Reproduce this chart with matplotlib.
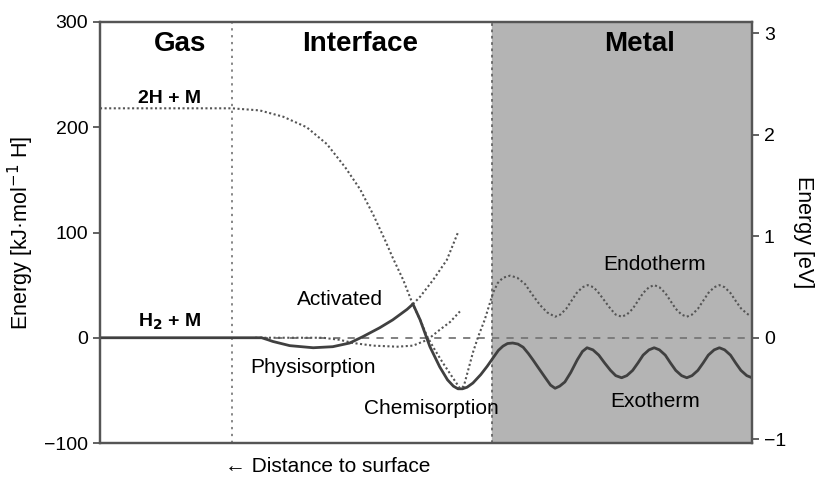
import matplotlib
matplotlib.use("Agg")
from matplotlib import pyplot as plt

plt.rcParams['font.family'] = ['Liberation Sans', 'DejaVu Sans']

KJ_PER_EV = 96.485
x_gas = 2.02
x_metal = 6.01

# H2 + M path (solid): physisorption -> activated barrier -> chemisorption -> exotherm metal
h2_x = [0.0, 2.38, 2.48, 2.58, 2.65, 2.91, 3.27, 3.57, 3.83, 4.03, 4.29, 4.49, 4.71, 4.80,
        4.91, 5.06, 5.21, 5.33, 5.42, 5.49, 5.56, 5.63, 5.72, 5.84, 5.94, 6.03, 6.11, 6.18, 6.25, 6.33,
        6.41, 6.49, 6.57, 6.64, 6.74, 6.83, 6.91, 6.98, 7.05, 7.13, 7.22, 7.32, 7.40, 7.47,
        7.56, 7.65, 7.74, 7.83, 7.91, 8.00, 8.08, 8.17, 8.25, 8.33, 8.42, 8.50,
        8.58, 8.67, 8.75, 8.83, 8.92, 9.00, 9.08, 9.17, 9.25, 9.33, 9.42, 9.50,
        9.58, 9.67, 9.75, 9.83, 9.92, 10.0]
h2_y = [0, 0, 0, -2, -3.5, -7.5, -9.5, -8.5, -5, 1, 9.5, 17, 27, 32,
        17, -8.5, -27.6, -40, -46, -48.5, -48.5, -47, -43, -35, -27, -19, -12, -8, -5.5, -5,
        -6, -9, -15, -21, -30, -38, -45, -48, -46, -42, -33, -21, -13, -9.5,
        -11.5, -16.5, -24, -31, -36, -38, -36, -31, -24, -16.5, -11.5, -9.5,
        -11.5, -16.5, -24, -31, -36, -38, -36, -31, -24, -16.5, -11.5, -9.5,
        -11.5, -16.5, -24, -31, -36, -38]

# 2H + M path (dotted): atomic hydrogen -> chemisorption -> endotherm metal
h_x = [0.0, 2.02, 2.45, 2.81, 3.17, 3.48, 3.76, 3.99, 4.19, 4.37, 4.49, 4.65, 4.79, 4.91,
       5.02, 5.14, 5.26, 5.40, 5.52, 5.58, 5.72, 5.80, 5.90, 6.03, 6.10, 6.18, 6.29,
       6.40, 6.52, 6.63, 6.75, 6.86, 6.98, 7.06, 7.15, 7.23, 7.31, 7.40, 7.48,
       7.57, 7.65, 7.74, 7.83, 7.91, 8.00, 8.08, 8.17, 8.25, 8.33, 8.42, 8.50,
       8.58, 8.67, 8.75, 8.83, 8.92, 9.00, 9.08, 9.17, 9.25, 9.33, 9.42, 9.50,
       9.58, 9.67, 9.75, 9.83, 9.92, 9.97]
h_y = [218, 218, 216, 210, 200, 184, 162, 141, 117, 93, 76, 55, 33, 17,
       1, -12, -24, -37, -48, -46, -14, 1, 17, 43, 52, 57, 59,
       57, 51, 41, 31, 24, 20, 22, 27.5, 35, 42.5, 48, 50,
       48, 42.5, 35, 27.5, 22, 20, 22, 27.5, 35, 42.5, 48, 50,
       48, 42.5, 35, 27.5, 22, 20, 22, 27.5, 35, 42.5, 48, 50,
       48, 42.5, 35, 28, 23, 21]

# wide physisorption well (dotted)
phys_x = [2.38, 3.42, 3.68, 3.88, 4.19, 4.56, 4.80, 5.02, 5.21, 5.37, 5.52]
phys_y = [0, 0, -2, -5, -7.5, -8.5, -7.5, -2, 7.5, 15, 25]

# continuation of the activated branch (dotted)
act_x = [4.80, 4.91, 5.11, 5.32, 5.49]
act_y = [32, 39, 55, 74, 100]

fig = plt.figure(figsize=(8.19, 4.83), dpi=100)
ax = fig.add_axes([100/819, 1-443/483, 652/819, 421/483])

ax.axvspan(x_metal, 10, color='#b4b4b4', zorder=0)
ax.axvline(x_gas, color='#666666', lw=1.1, ls=(0, (1.5, 3)), zorder=1)
ax.axvline(x_metal, color='#666666', lw=1.3, ls=(0, (1.5, 2)), zorder=1)
ax.plot([x_gas, 10], [0, 0], color='#777777', lw=1.3, ls=(0, (4, 4)), zorder=2)

ax.plot(phys_x, phys_y, color='#555555', lw=1.5, ls=(0, (1, 1.2)), zorder=3)
ax.plot(act_x, act_y, color='#555555', lw=1.5, ls=(0, (1, 1.2)), zorder=3)
ax.plot(h_x, h_y, color='#555555', lw=1.5, ls=(0, (1, 1.2)), zorder=3)
ax.plot(h2_x, h2_y, color='#404040', lw=2, zorder=4)

ax.set_xlim(0, 10)
ax.set_ylim(-100, 300)
ax.set_xticks([])
ax.set_yticks([-100, 0, 100, 200, 300])
ax.set_yticklabels(['\u2212100', '0', '100', '200', '300'])
ax.tick_params(axis='y', labelsize=14, length=5, width=1.3, color='#555555')
ax.set_ylabel('Energy [kJ\u00b7mol$^{-1}$ H]', fontsize=15.5, labelpad=6)
for s in ax.spines.values():
    s.set_color('#555555')
    s.set_linewidth(1.6)

ax2 = ax.twinx()
ax2.set_ylim(-100 / KJ_PER_EV, 300 / KJ_PER_EV)
ax2.set_yticks([-1, 0, 1, 2, 3])
ax2.set_yticklabels(['\u22121', '0', '1', '2', '3'])
ax2.tick_params(axis='y', labelsize=14, length=5, width=1.3, color='#555555')
ax2.set_ylabel('Energy [eV]', fontsize=15.5, rotation=270, labelpad=20)
for s in ax2.spines.values():
    s.set_color('#555555')
    s.set_linewidth(1.6)

ax.text(1.23, 279, 'Gas', fontsize=20, fontweight='bold', ha='center', va='center')
ax.text(3.99, 279, 'Interface', fontsize=20, fontweight='bold', ha='center', va='center')
ax.text(8.28, 279, 'Metal', fontsize=20, fontweight='bold', ha='center', va='center')
ax.text(1.07, 227, '2H + M', fontsize=14, fontweight='bold', ha='center', va='center')
ax.text(1.07, 15, 'H$_\\mathbf{2}$ + M', fontsize=14, fontweight='bold', ha='center', va='center')
ax.text(3.68, 36, 'Activated', fontsize=15, ha='center', va='center')
ax.text(3.27, -28, 'Physisorption', fontsize=15, ha='center', va='center')
ax.text(5.09, -67, 'Chemisorption', fontsize=15, ha='center', va='center')
ax.text(8.51, 70, 'Endotherm', fontsize=15, ha='center', va='center')
ax.text(8.51, -61, 'Exotherm', fontsize=15, ha='center', va='center')
fig.text(225/819, 1-467/483, '\u2190 Distance to surface', fontsize=15, ha='left', va='center')

fig.savefig('out.png', dpi=100)
